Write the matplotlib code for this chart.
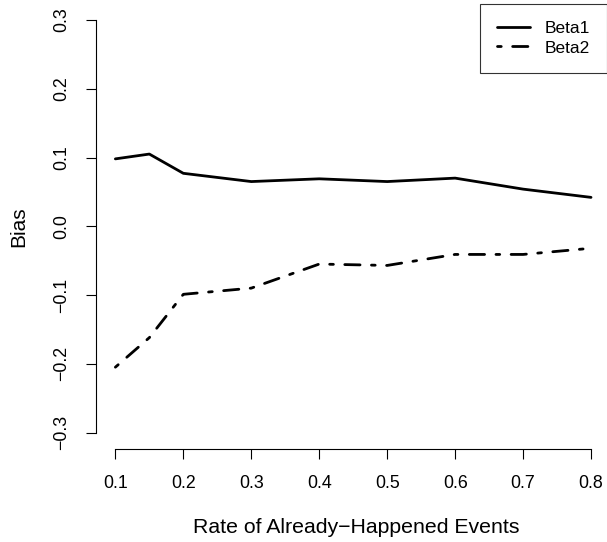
import matplotlib
matplotlib.use("Agg")
import matplotlib.pyplot as plt

# values
rate = [0.1, 0.15, 0.2, 0.3, 0.4, 0.5, 0.6, 0.7, 0.8]
beta1 = [0.098, 0.105, 0.077, 0.065, 0.069, 0.065, 0.070, 0.054, 0.042]
beta2 = [-0.205, -0.162, -0.099, -0.090, -0.055, -0.057, -0.041, -0.041, -0.032]
xticks = [0.1, 0.2, 0.3, 0.4, 0.5, 0.6, 0.7, 0.8]
yticks = [-0.3, -0.2, -0.1, 0.0, 0.1, 0.2, 0.3]

plt.rcParams['font.family'] = ['Liberation Sans', 'DejaVu Sans']

fig = plt.figure(figsize=(6.07, 5.42), dpi=100)
ax = fig.add_axes([96 / 607, 1 - 449 / 542, 1 - 96 / 607, (449 - 3.5) / 542])

ax.plot(rate, beta1, color='black', lw=2.0, solid_capstyle='round',
        solid_joinstyle='round', label='Beta1')
ax.plot(rate, beta2, color='black', lw=2.0, dash_capstyle='round',
        dash_joinstyle='round', linestyle=(0, (1.35, 4.1, 5.5, 4.1)), label='Beta2')

ax.set_xlim(0.0715, 0.8235)
ax.set_ylim(-0.324, 0.324)

for s in ['top', 'right']:
    ax.spines[s].set_visible(False)
ax.spines['left'].set_bounds(-0.3, 0.3)
ax.spines['bottom'].set_bounds(0.1, 0.8)
ax.spines['left'].set_linewidth(0.8)
ax.spines['bottom'].set_linewidth(0.8)

ax.set_xticks(xticks)
ax.set_xticklabels([f'{v:.1f}' for v in xticks])
ax.set_yticks(yticks)
ax.set_yticklabels([f'{v:.1f}'.replace('-', '\u2212') for v in yticks],
                   rotation=90, va='center')
ax.tick_params(axis='both', length=7.5, width=0.8, labelsize=12.8, color='black')
ax.tick_params(axis='x', pad=11)
ax.tick_params(axis='y', pad=11)

ax.set_xlabel('Rate of Already\u2212Happened Events', fontsize=15.3, labelpad=18)
ax.xaxis.set_label_coords(0.510, -0.155)
ax.set_ylabel('Bias', fontsize=15, labelpad=18)

leg = ax.legend(loc='upper right', fontsize=12.5, frameon=True, fancybox=False,
                borderaxespad=0, handlelength=1.85, handletextpad=0.85,
                borderpad=1.0, labelspacing=0.25)
leg.get_frame().set_edgecolor('black')
leg.get_frame().set_linewidth(0.8)

fig.savefig('out.png', dpi=100)
